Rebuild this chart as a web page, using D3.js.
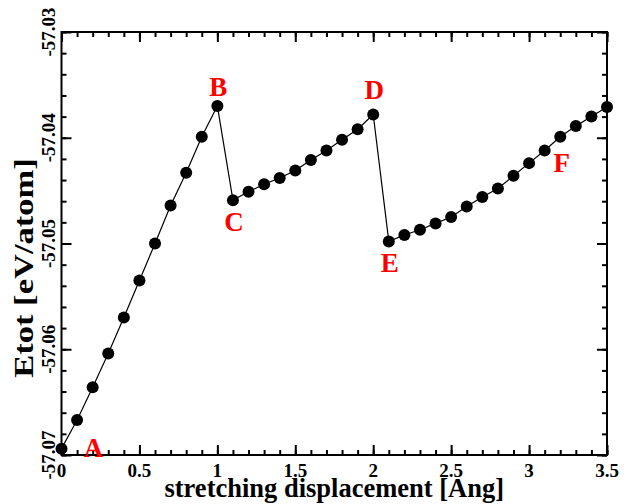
<!DOCTYPE html>
<html>
<head>
<meta charset="utf-8">
<script src="https://cdn.jsdelivr.net/npm/d3@7"></script>
<style>
  html, body { margin: 0; padding: 0; background: #fff; }
  svg { display: block; }
  text { font-family: "Liberation Serif", "Times New Roman", serif; font-weight: bold; }
</style>
</head>
<body>
<svg id="chart" width="628" height="504"></svg>
<script>
// ---- data ----
const displacement = [0.0,0.1,0.2,0.3,0.4,0.5,0.6,0.7,0.8,0.9,1.0,1.1,1.2,1.3,1.4,1.5,1.6,1.7,1.8,1.9,2.0,
                      2.1,2.2,2.3,2.4,2.5,2.6,2.7,2.8,2.9,3.0,3.1,3.2,3.3,3.4,3.5];
const etot = [-57.0694,-57.0667,-57.0636,-57.0604,-57.0570,-57.0535,-57.0500,-57.0464,-57.0433,-57.0399,-57.0370,
              -57.0459,-57.0451,-57.0444,-57.0438,-57.0431,-57.0421,-57.0412,-57.0402,-57.0392,-57.0378,
              -57.0498,-57.0492,-57.0487,-57.0481,-57.0475,-57.0465,-57.0456,-57.0448,-57.0436,-57.0424,
              -57.0412,-57.0399,-57.0389,-57.0380,-57.0371];
const xTicks = [0, 0.5, 1, 1.5, 2, 2.5, 3, 3.5];
const xTickLabels = ["0", "0.5", "1", "1.5", "2", "2.5", "3", "3.5"];
const yTicks = [-57.07, -57.06, -57.05, -57.04, -57.03];
const yTickLabels = ["-57.07", "-57.06", "-57.05", "-57.04", "-57.03"];
const pointLabels = ["A", "B", "C", "D", "E", "F"];
const pointLabelIndex = [0, 10, 11, 20, 21, 31];
const xTitle = "stretching displacement [Ang]";
const yTitle = "Etot [eV/atom]";

// ---- layout ----
const svg = d3.select("#chart");
const L = 61.5, R = 607, T = 32, B = 455;
const x = d3.scaleLinear().domain([0, 3.5]).range([L, R]);
const y = d3.scaleLinear().domain([-57.07, -57.03]).range([B, T]);

const minorX = d3.range(0, 3.5001, 0.1);
const minorY = d3.range(0, 21).map(i => -57.07 + i * 0.002);

// bottom axis (ticks inward)
const gB = svg.append("g").attr("transform", `translate(0,${B})`);
gB.call(d3.axisBottom(x).tickValues(minorX).tickSize(-5).tickFormat(""));
gB.call(g => g.append("g").call(d3.axisBottom(x).tickValues(xTicks).tickSize(-10).tickFormat("")));
// top axis
const gT = svg.append("g").attr("transform", `translate(0,${T})`);
gT.call(d3.axisTop(x).tickValues(minorX).tickSize(-5).tickFormat(""));
gT.call(g => g.append("g").call(d3.axisTop(x).tickValues(xTicks).tickSize(-10).tickFormat("")));
// left axis
const gL = svg.append("g").attr("transform", `translate(${L},0)`);
gL.call(d3.axisLeft(y).tickValues(minorY).tickSize(-5).tickFormat(""));
gL.call(g => g.append("g").call(d3.axisLeft(y).tickValues(yTicks).tickSize(-10).tickFormat("")));
// right axis
const gR = svg.append("g").attr("transform", `translate(${R},0)`);
gR.call(d3.axisRight(y).tickValues(minorY).tickSize(-5).tickFormat(""));
gR.call(g => g.append("g").call(d3.axisRight(y).tickValues(yTicks).tickSize(-10).tickFormat("")));

svg.selectAll(".domain").remove();
svg.selectAll(".tick line").attr("stroke", "#000").attr("stroke-width", 2);

// frame
svg.append("rect").attr("x", L).attr("y", T).attr("width", R - L).attr("height", B - T)
  .attr("fill", "none").attr("stroke", "#000").attr("stroke-width", 2);

// x tick labels
svg.append("g").selectAll("text").data(xTicks).join("text")
  .attr("x", d => x(d)).attr("y", 477)
  .attr("text-anchor", "middle").attr("font-size", 19).attr("fill", "#000")
  .text((d, i) => xTickLabels[i]);

// y tick labels (rotated)
svg.append("g").selectAll("text").data(yTicks).join("text")
  .attr("transform", d => `translate(55,${y(d)}) rotate(-90)`)
  .attr("text-anchor", "middle").attr("font-size", 19).attr("fill", "#000")
  .text((d, i) => yTickLabels[i]);

// titles
svg.append("text").attr("x", (L + R) / 2).attr("y", 497)
  .attr("text-anchor", "middle").attr("font-size", 26.5).attr("fill", "#000").text(xTitle);
svg.append("text").attr("transform", `translate(33,268) rotate(-90) scale(1.28,1)`)
  .attr("text-anchor", "middle").attr("font-size", 27).attr("fill", "#000").text(yTitle);

// line
const pts = displacement.map((d, i) => [d, etot[i]]);
svg.append("path").datum(pts)
  .attr("fill", "none").attr("stroke", "#000").attr("stroke-width", 1.2)
  .attr("d", d3.line().x(d => x(d[0])).y(d => y(d[1])));

// markers
svg.append("g").selectAll("circle").data(pts).join("circle")
  .attr("cx", d => x(d[0])).attr("cy", d => y(d[1])).attr("r", 6).attr("fill", "#000");

// point labels (offsets in px from their point)
const labelOffsets = [[32, 8], [1, -10], [1, 31], [1, -15], [1, 31], [17, 22]];
svg.append("g").selectAll("text").data(pointLabels).join("text")
  .attr("x", (d, i) => x(displacement[pointLabelIndex[i]]) + labelOffsets[i][0])
  .attr("y", (d, i) => y(etot[pointLabelIndex[i]]) + labelOffsets[i][1])
  .attr("text-anchor", "middle").attr("font-size", 27).attr("fill", "#ff0000")
  .text(d => d);
</script>
</body>
</html>
